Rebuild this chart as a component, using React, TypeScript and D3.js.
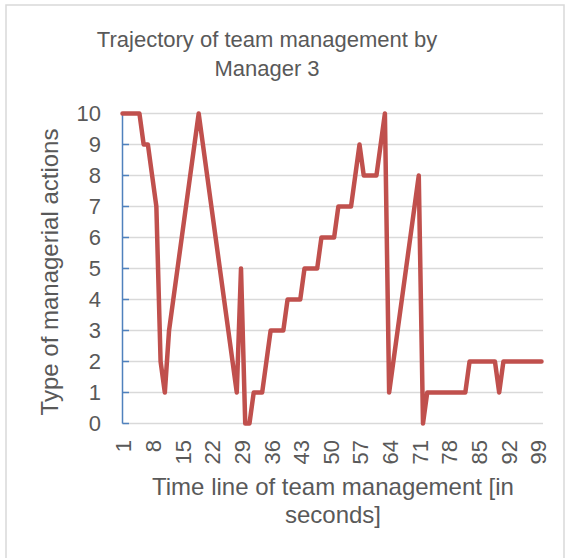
import React from "react";
import * as d3 from "d3";

const seconds: number[] = d3.range(1, 101);
const actions: number[] = [
  10, 10, 10, 10, 10, 9, 9, 8, 7, 2,
  1, 3, 4, 5, 6, 7, 8, 9, 10, 9,
  8, 7, 6, 5, 4, 3, 2, 1, 5, 0,
  0, 1, 1, 1, 2, 3, 3, 3, 3, 4,
  4, 4, 4, 5, 5, 5, 5, 6, 6, 6,
  6, 7, 7, 7, 7, 8, 9, 8, 8, 8,
  8, 9, 10, 1, 2, 3, 4, 5, 6, 7,
  8, 0, 1, 1, 1, 1, 1, 1, 1, 1,
  1, 1, 2, 2, 2, 2, 2, 2, 2, 1,
  2, 2, 2, 2, 2, 2, 2, 2, 2, 2,
];
const xTickLabels: number[] = [1, 8, 15, 22, 29, 36, 43, 50, 57, 64, 71, 78, 85, 92, 99];
const yTicks: number[] = d3.range(0, 11);
const titleLines = ["Trajectory of team management by", "Manager 3"];
const xTitleLines = ["Time line of team management [in", "seconds]"];
const yTitle = "Type of managerial actions";

const W = 568;
const H = 558;
const FONT = "'Liberation Sans', Arial, sans-serif";
const TEXT = "#595959";

export default function App() {
  const x = d3.scalePoint<number>().domain(seconds).range([122.5, 541.5]);
  const y = d3.scaleLinear().domain([0, 10]).range([423.5, 113.5]);
  const line = d3
    .line<number>()
    .x((_, i) => x(seconds[i]) as number)
    .y((d) => y(d));

  return (
    <svg
      width={W}
      height={H}
      style={{ position: "absolute", left: 0, top: 0, background: "#fff" }}
      fontFamily={FONT}
    >
      <rect x={6} y={5} width={558} height={H + 10} fill="#fff" stroke="#d9d9d9" strokeWidth={1.5} />
      {titleLines.map((t, i) => (
        <text key={t} x={267} y={47 + i * 29} textAnchor="middle" fontSize={22} fill={TEXT}>
          {t}
        </text>
      ))}
      {yTicks.map((v) => (
        <line key={"g" + v} x1={122.5} x2={543} y1={y(v)} y2={y(v)} stroke="#d9d9d9" strokeWidth={1.5} />
      ))}
      <line x1={122.5} x2={122.5} y1={y(10)} y2={y(0)} stroke="#4f81bd" strokeWidth={1.5} />
      {yTicks.map((v) => (
        <line key={"t" + v} x1={122.5} x2={129} y1={y(v)} y2={y(v)} stroke="#4f81bd" strokeWidth={1.5} />
      ))}
      {yTicks.map((v) => (
        <text key={"l" + v} x={101} y={y(v)} dy="0.36em" textAnchor="end" fontSize={22} fill={TEXT}>
          {v}
        </text>
      ))}
      {xTickLabels.map((v) => (
        <text
          key={"x" + v}
          transform={`translate(${(x(v) as number) + 1},440) rotate(-90)`}
          dy="0.36em"
          textAnchor="end"
          fontSize={22}
          fill={TEXT}
        >
          {v}
        </text>
      ))}
      <path d={line(actions) || ""} fill="none" stroke="#c0504d" strokeWidth={4.5} strokeLinejoin="round" strokeLinecap="round" />
      {xTitleLines.map((t, i) => (
        <text key={t} x={333} y={495 + i * 28} textAnchor="middle" fontSize={24} fill={TEXT}>
          {t}
        </text>
      ))}
      <text transform="translate(58,272) rotate(-90)" textAnchor="middle" fontSize={24} fill={TEXT}>
        {yTitle}
      </text>
    </svg>
  );
}
